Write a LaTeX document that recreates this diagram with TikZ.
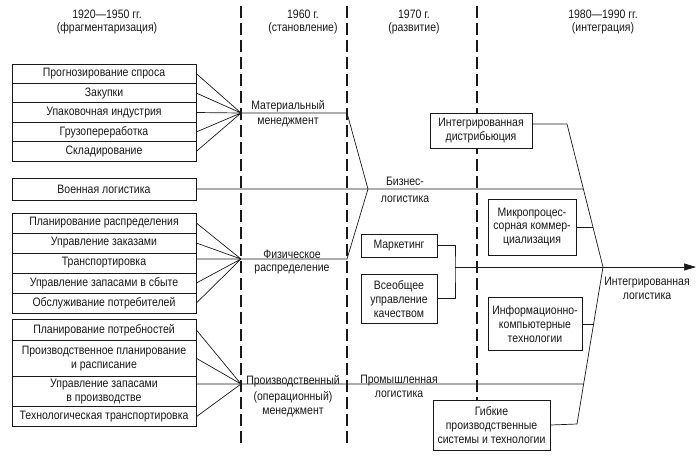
\documentclass[tikz,border=0pt]{standalone}
\usepackage{fontspec}
\setmainfont[FakeStretch=0.86]{Liberation Sans}
\usepackage{tikz}
\usetikzlibrary{arrows.meta, positioning}

\begin{document}
\begin{tikzpicture}[
    x=1pt, y=-1pt,
    every node/.style={font=\fontsize{12.2}{13.8}\selectfont, text=black!90},
    item/.style={
        rectangle, draw=black!90, line width=0.8pt, fill=white,
        minimum width=184pt, minimum height=19.4pt,
        inner sep=1pt, align=center,
    },
    block/.style={
        rectangle, draw=black!90, line width=0.8pt, fill=white,
        inner sep=1.5pt, align=center,
    },
    period/.style={draw=black!90, line width=1.3pt, dash pattern=on 12pt off 5pt},
    link/.style={draw=black!90, line width=0.7pt},
    arrow/.style={link, -{Triangle[length=12pt, width=7pt]}},
    lbl/.style={align=center},
]

\useasboundingbox (0,0) rectangle (698,456);

% PERIODS
\node[lbl] (h1) at (107,22) {1920—1950 гг.\\(фрагментаризация)};
\node[lbl] (h2) at (303,22) {1960 г.\\(становление)};
\node[lbl] (h3) at (414,22) {1970 г.\\(развитие)};
\node[lbl] (h4) at (603,22) {1980—1990 гг.\\(интеграция)};

\draw[period] (241,6) -- (241,445);
\draw[period] (347,6) -- (347,445);
\draw[period] (477,6) -- (477,400);

% MATERIAL MANAGEMENT
\node[item] (m1) at (104,73.7) {Прогнозирование спроса};
\node[item] (m2) at (104,93.1) {Закупки};
\node[item] (m3) at (104,112.5) {Упаковочная индустрия};
\node[item] (m4) at (104,131.9) {Грузопереработка};
\node[item] (m5) at (104,151.3) {Складирование};

\coordinate (mat) at (241,113);
\coordinate (matB) at (347,113);
\node[lbl] (matlbl) at (288,114) {Материальный\\[1pt]менеджмент};

% MILITARY LOGISTICS
\node[item, minimum height=22pt] (mil) at (104,189) {Военная логистика};

% PHYSICAL DISTRIBUTION
\node[item, minimum height=20pt] (f1) at (104,223) {Планирование распределения};
\node[item, minimum height=20pt] (f2) at (104,243) {Управление заказами};
\node[item, minimum height=20pt] (f3) at (104,263) {Транспортировка};
\node[item, minimum height=20pt] (f4) at (104,283) {Управление запасами в сбыте};
\node[item, minimum height=20pt] (f5) at (104,303) {Обслуживание потребителей};

\coordinate (fiz) at (241,259);
\coordinate (fizB) at (347,259);
\node[lbl] (fizlbl) at (292,262) {Физическое\\распределение};

% PRODUCTION MANAGEMENT
\node[item, minimum height=21.4pt] (p1) at (104,330) {Планирование потребностей};
\node[item, minimum height=35.3pt] (p2) at (104,358.3) {Производственное планирование\\и расписание};
\node[item, minimum height=30.7pt] (p3) at (104,391.3) {Управление запасами\\в производстве};
\node[item, minimum height=20pt] (p4) at (104,416.7) {Технологическая транспортировка};

\coordinate (prod) at (241,384);
\node[lbl] (prodlbl) at (293,396) {Производственный\\[3pt](операционный)\\менеджмент};

% BUSINESS LOGISTICS
\coordinate (biz) at (368,189);
\node[lbl] (bizlbl) at (405,190) {Бизнес-\\[3pt]логистика};

% 1970
\node[block, minimum width=76pt, minimum height=23pt] (mkt) at (399,245.5) {Маркетинг};
\node[block, minimum width=76pt, minimum height=49pt] (qual) at (399,298.8) {Всеобщее\\управление\\качеством};
\node[lbl] (indlbl) at (399,386) {Промышленная\\логистика};

% 1980-1990
\node[block, minimum width=102pt, minimum height=35pt] (intd) at (481,130.5) {Интегрированная\\дистрибьюция};
\node[block, minimum width=88pt, minimum height=56pt] (micro) at (532,227) {Микропроцес-\\сорная коммер-\\циализация};
\node[block, minimum width=94pt, minimum height=53pt] (info) at (535,324) {Информационно-\\компьютерные\\технологии};
\node[block, minimum width=117pt, minimum height=50pt] (flex) at (491.5,425) {Гибкие\\производственные\\системы и технологии};

\coordinate (cTop) at (567,124);
\coordinate (tip) at (603,267);
\coordinate (cBot) at (577,424);
\path (cTop) -- (tip) coordinate[pos=0.455] (jBiz) coordinate[pos=0.72] (jMicro);
\path (tip) -- (cBot) coordinate[pos=0.363] (jInfo) coordinate[pos=0.745] (jProd);

\node[lbl] (intlog) at (647,288) {Интегрированная\\логистика};

% CONNECTIONS
\draw[link] (m1.east) -- (mat) (m2.east) -- (mat) (m4.east) -- (mat) (m5.east) -- (mat);
\draw[link] (f1.east) -- (fiz) (f2.east) -- (fiz) (f4.east) -- (fiz) (f5.east) -- (fiz);
\draw[link] (p1.east) -- (prod) (p2.east) -- (prod) (p4.east) -- (prod);

\draw[link] (m3.east) -- (mat) -- (matB) -- (biz) -- (fizB) -- (fiz) -- (f3.east |- fiz);
\draw[link] (mil.east) -- (jBiz);
\draw[link] (p3.east |- prod) -- (jProd);

\draw[link] (intd.east |- cTop) -- (cTop) -- (tip) -- (cBot) -- (flex.east);
\draw[link] (micro.east |- jMicro) -- (jMicro);
\draw[link] (info.east |- jInfo) -- (jInfo);

% Main line
\coordinate (junc) at (455,267);
\coordinate (goal) at (696,267);
\draw[link] (mkt.east) -| (junc) |- (qual.east);
\draw[arrow] (junc) -- (goal);

\end{tikzpicture}
\end{document}
